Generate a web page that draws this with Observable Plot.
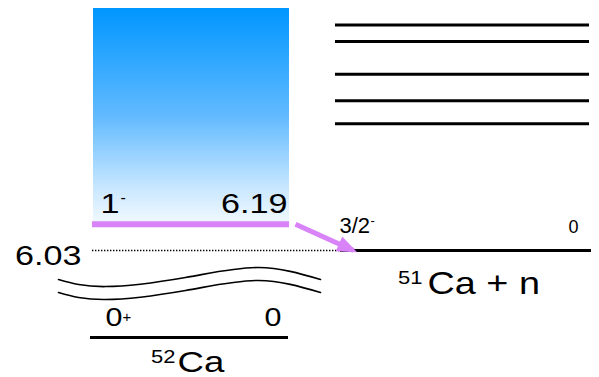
<!DOCTYPE html>
<html>
<head>
<meta charset="utf-8">
<script src="https://cdn.jsdelivr.net/npm/d3@7"></script>
<script src="https://cdn.jsdelivr.net/npm/@observablehq/plot@0.6"></script>
<style>
  html, body { margin: 0; padding: 0; background: #fff; }
</style>
</head>
<body>
<div id="chart"></div>
<script>
// Level scheme: 52Ca 1- state above the one-neutron threshold (51Ca + n).
// Energies in MeV relative to the 52Ca ground state.
const ca52Energies = [0, 6.19];          // 0+ ground state, 1- state
const ca52Spins = ["0", "1"];
const ca52Parities = ["+", "-"];
const thresholdEnergies = [6.03];        // one-neutron separation energy (51Ca 3/2- + n)
const ca51Spins = ["3/2"];
const ca51Parities = ["-"];
const ca51Excitations = [0];             // 51Ca ground state, excitation energy
const ca51UpperLevels = [6.80, 6.94, 7.10, 7.30, 7.40]; // schematic 51Ca + n excited channels
const continuumTop = [7.5];
const nuclei = ["52", "Ca", "51", "Ca + n"];

// axis-break symbol (schematic wavy lines), energies on the compressed lower segment
const breakX = [58, 105, 185, 258, 320];
const breakUpper = [4.02, 3.53, 4.16, 4.85, 4.02];
const breakLower = [3.12, 2.63, 3.26, 3.95, 3.12];

const purple = "#d883f7";
const font = "'Liberation Sans', Arial, Helvetica, sans-serif";

const upper = breakX.map((x, i) => ({x, y: breakUpper[i]}));
const lower = breakX.map((x, i) => ({x, y: breakLower[i]}));

// gradient definition for the continuum box
const gradientDefs = () => {
  const defs = d3.create("svg:defs");
  const g = defs.append("linearGradient")
    .attr("id", "continuum")
    .attr("x1", 0).attr("y1", 0).attr("x2", 0).attr("y2", 1);
  g.append("stop").attr("offset", "0%").attr("stop-color", "#0096ff");
  g.append("stop").attr("offset", "50%").attr("stop-color", "#62baff");
  g.append("stop").attr("offset", "85%").attr("stop-color", "#cde9ff");
  g.append("stop").attr("offset", "100%").attr("stop-color", "#f2f9ff");
  return defs.node();
};

// filled triangular arrowhead
const triangleHead = (color, context) => {
  const ns = "http://www.w3.org/2000/svg";
  const m = context.document.createElementNS(ns, "marker");
  m.setAttribute("viewBox", "0 -10 20 20");
  m.setAttribute("markerWidth", 20);
  m.setAttribute("markerHeight", 20);
  m.setAttribute("markerUnits", "userSpaceOnUse");
  m.setAttribute("refX", 16);
  m.setAttribute("refY", 0);
  m.setAttribute("orient", "auto");
  const p = context.document.createElementNS(ns, "path");
  p.setAttribute("d", "M0,-8L20,0L0,8Z");
  p.setAttribute("fill", color);
  p.setAttribute("stroke", "none");
  m.appendChild(p);
  return m;
};

const wide = "wide";

const chart = Plot.plot({
  width: 599,
  height: 377,
  margin: 0,
  style: {fontFamily: font, background: "#fff", color: "#000"},
  x: {type: "linear", domain: [0, 599], range: [0, 599], axis: null},
  y: {type: "linear", domain: [0, 6.03, 7.5], range: [337, 250, 8], axis: null},
  marks: [
    gradientDefs,
    // continuum above the 1- state
    Plot.rect([[ca52Energies[1], continuumTop[0]]], {
      x1: 93, x2: 289, y1: d => d[0], y2: d => d[1], fill: "url(#continuum)"
    }),
    // 51Ca + n channels
    Plot.ruleY(ca51UpperLevels, {x1: 335, x2: 589, stroke: "#000", strokeWidth: 3}),
    Plot.ruleY(thresholdEnergies, {x1: 340, x2: 591, stroke: "#000", strokeWidth: 3}),
    // threshold extended to the 52Ca column
    Plot.ruleY(thresholdEnergies, {x1: 92, x2: 340, stroke: "#000", strokeWidth: 1.3, strokeDasharray: "1.4 1.6"}),
    // 52Ca levels
    Plot.ruleY([ca52Energies[0]], {x1: 90, x2: 288, stroke: "#000", strokeWidth: 3}),
    Plot.ruleY([ca52Energies[1]], {x1: 92, x2: 289, stroke: purple, strokeWidth: 6}),
    // neutron decay of the 1- state
    Plot.link([{from: ca52Energies[1], to: thresholdEnergies[0]}], {
      x1: 295, x2: 353, y1: "from", y2: "to",
      stroke: purple, strokeWidth: 5, markerEnd: triangleHead
    }),
    // axis break
    Plot.line(upper, {x: "x", y: "y", curve: "natural", stroke: "#000", strokeWidth: 1.6}),
    Plot.line(lower, {x: "x", y: "y", curve: "natural", stroke: "#000", strokeWidth: 1.6}),

    // 1- state labels
    Plot.text([ca52Energies[1]], {x: 100, y: d => d, text: () => ca52Spins[1], textAnchor: "start", lineAnchor: "bottom", dy: -11, fontSize: 28, fill: "#000", ariaDescription: wide}),
    Plot.text([ca52Energies[1]], {x: 120, y: d => d, text: () => ca52Parities[1], textAnchor: "start", lineAnchor: "bottom", dy: -21, fontSize: 16, fill: "#000"}),
    Plot.text([ca52Energies[1]], {x: 287, y: d => d, text: d => d.toFixed(2), textAnchor: "end", lineAnchor: "bottom", dy: -11, fontSize: 28, fill: "#000", ariaDescription: wide}),
    // threshold energy
    Plot.text(thresholdEnergies, {x: 81, y: d => d, text: d => d.toFixed(2), textAnchor: "end", lineAnchor: "bottom", dy: 14, fontSize: 28, fill: "#000", ariaDescription: wide}),
    // 0+ ground state labels
    Plot.text([ca52Energies[0]], {x: 105, y: d => d, text: () => ca52Spins[0], textAnchor: "start", lineAnchor: "bottom", dy: -12, fontSize: 25, fill: "#000", ariaDescription: wide}),
    Plot.text([ca52Energies[0]], {x: 122, y: d => d, text: () => ca52Parities[0], textAnchor: "start", lineAnchor: "bottom", dy: -16, fontSize: 15, fill: "#000"}),
    Plot.text([ca52Energies[0]], {x: 281, y: d => d, text: d => String(d), textAnchor: "end", lineAnchor: "bottom", dy: -12, fontSize: 25, fill: "#000", ariaDescription: wide}),
    // 51Ca ground state labels
    Plot.text(thresholdEnergies, {x: 339, y: d => d, text: () => ca51Spins[0], textAnchor: "start", lineAnchor: "bottom", dy: -18, fontSize: 22, fill: "#000"}),
    Plot.text(thresholdEnergies, {x: 370, y: d => d, text: () => ca51Parities[0], textAnchor: "start", lineAnchor: "bottom", dy: -26, fontSize: 13, fill: "#000"}),
    Plot.text(thresholdEnergies, {x: 578, y: d => d, text: () => String(ca51Excitations[0]), textAnchor: "end", lineAnchor: "bottom", dy: -18, fontSize: 18, fill: "#000"}),
    // nucleus names
    Plot.text([ca52Energies[0]], {x: 175, y: d => d, text: () => nuclei[0], textAnchor: "end", lineAnchor: "bottom", dy: 25, fontSize: 18, fill: "#000", ariaDescription: wide}),
    Plot.text([ca52Energies[0]], {x: 177, y: d => d, text: () => nuclei[1], textAnchor: "start", lineAnchor: "bottom", dy: 34, fontSize: 30, fill: "#000", ariaDescription: wide}),
    Plot.text(thresholdEnergies, {x: 422, y: d => d, text: () => nuclei[2], textAnchor: "end", lineAnchor: "bottom", dy: 33, fontSize: 18, fill: "#000", ariaDescription: wide}),
    Plot.text(thresholdEnergies, {x: 427, y: d => d, text: () => nuclei[3], textAnchor: "start", lineAnchor: "bottom", dy: 43, fontSize: 31, fill: "#000", ariaDescription: wide})
  ]
});

// widen the large labels horizontally about their anchor point
chart.querySelectorAll('g[aria-description="wide"] text').forEach(t => {
  const tr = t.getAttribute("transform");
  const k = 1.22;
  if (tr) {
    t.setAttribute("transform", `${tr} scale(${k},1)`);
  } else {
    const x = +t.getAttribute("x") || 0;
    t.setAttribute("transform", `translate(${x},0) scale(${k},1) translate(${-x},0)`);
  }
});

document.getElementById("chart").appendChild(chart);
</script>
</body>
</html>
